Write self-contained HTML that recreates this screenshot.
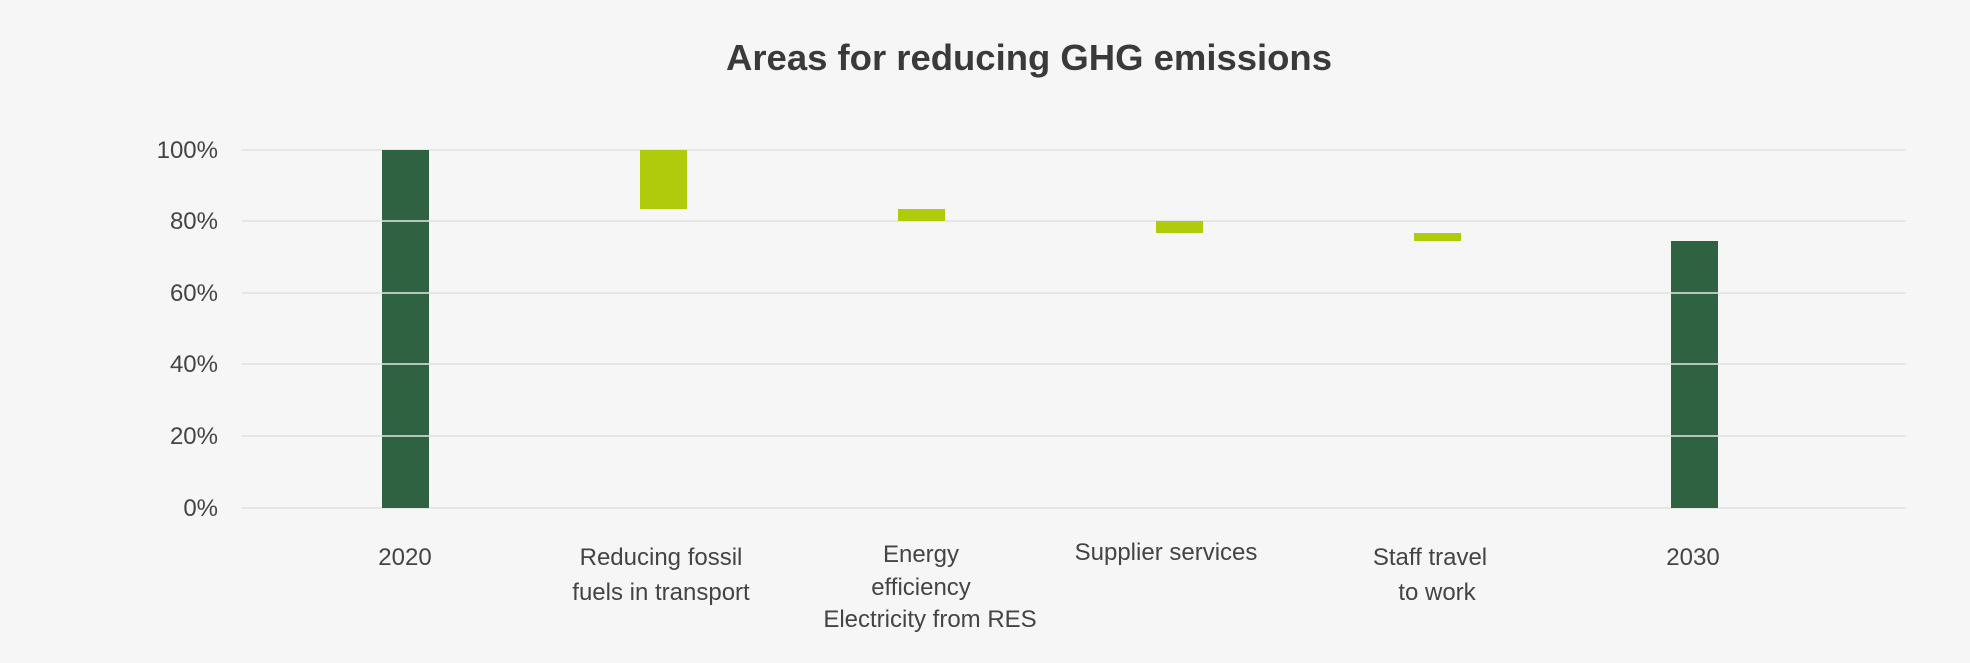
<!DOCTYPE html>
<html><head><meta charset="utf-8"><style>
html,body{margin:0;padding:0;background:#f6f6f6;}
svg{display:block;}
text{font-family:"Liberation Sans",sans-serif;}
</style></head><body>
<svg width="1970" height="663" viewBox="0 0 1970 663" xmlns="http://www.w3.org/2000/svg">
<rect width="1970" height="663" fill="#f6f6f6"/>
<text x="1029" y="70" text-anchor="middle" font-size="36" font-weight="bold" fill="#3a3a3a" textLength="606" lengthAdjust="spacingAndGlyphs">Areas for reducing GHG emissions</text>
<g stroke="#dde2e1" stroke-width="1.5">
<line x1="242" x2="1906" y1="150" y2="150"/>
<line x1="242" x2="1906" y1="221" y2="221"/>
<line x1="242" x2="1906" y1="293" y2="293"/>
<line x1="242" x2="1906" y1="364" y2="364"/>
<line x1="242" x2="1906" y1="436" y2="436"/>
<line x1="242" x2="1906" y1="508" y2="508"/>
</g>
<g font-size="24" fill="#444" text-anchor="end">
<text x="218" y="158">100%</text>
<text x="218" y="229">80%</text>
<text x="218" y="301">60%</text>
<text x="218" y="372">40%</text>
<text x="218" y="444">20%</text>
<text x="218" y="516">0%</text>
</g>
<rect x="382" y="150" width="47" height="358" fill="#2f6240"/>
<rect x="640" y="150" width="47" height="59" fill="#b0ca0c"/>
<rect x="898" y="209" width="47" height="12" fill="#b0ca0c"/>
<rect x="1156" y="221" width="47" height="12" fill="#b0ca0c"/>
<rect x="1414" y="233" width="47" height="8" fill="#b0ca0c"/>
<rect x="1671" y="241" width="47" height="267" fill="#2f6240"/>
<g stroke="#e4e8e6" stroke-width="1.5">
<line x1="382" x2="429" y1="221" y2="221"/><line x1="382" x2="429" y1="293" y2="293"/><line x1="382" x2="429" y1="364" y2="364"/><line x1="382" x2="429" y1="436" y2="436"/>
<line x1="1671" x2="1718" y1="293" y2="293"/><line x1="1671" x2="1718" y1="364" y2="364"/><line x1="1671" x2="1718" y1="436" y2="436"/>
</g>
<g font-size="24" fill="#444" text-anchor="middle">
<text x="405" y="565">2020</text>
<text x="661" y="565">Reducing fossil</text>
<text x="661" y="600">fuels in transport</text>
<text x="921" y="562">Energy</text>
<text x="921" y="595">efficiency</text>
<text x="930" y="627">Electricity from RES</text>
<text x="1166" y="560">Supplier services</text>
<text x="1430" y="565">Staff travel</text>
<text x="1437" y="600">to work</text>
<text x="1693" y="565">2030</text>
</g>
</svg>
</body></html>
